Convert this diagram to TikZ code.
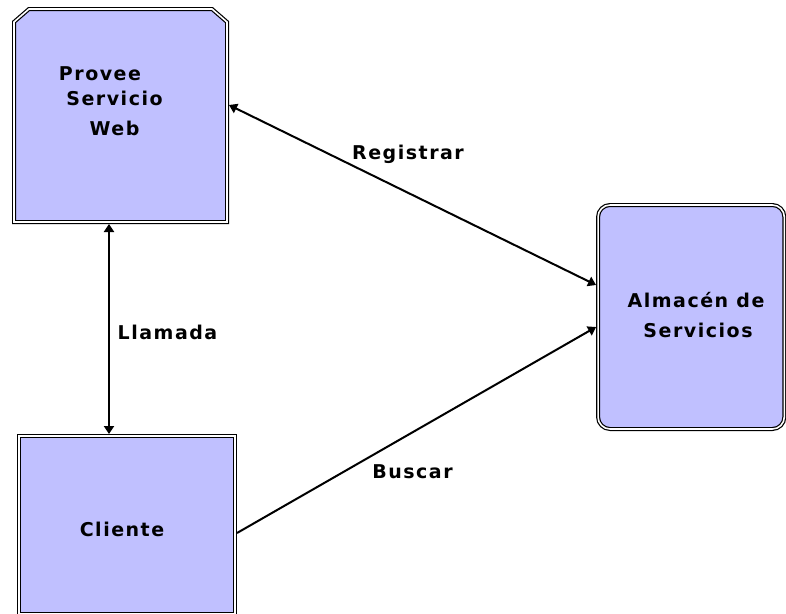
\documentclass[tikz,border=0pt]{standalone}
\usepackage{fontspec}
\newfontfamily\diagfont{DejaVu Sans}[LetterSpace=8]
\usetikzlibrary{arrows.meta}
\definecolor{boxfill}{RGB}{192,192,255}
\tikzset{
  boxline/.style={draw=black, line width=1.2pt, double=white, double distance=1.6pt,
    fill=boxfill},
  boxarea/.style={rectangle, inner sep=0pt, outer sep=2pt},
  lbl/.style={font=\diagfont\bfseries\fontsize{19}{22}\selectfont, inner sep=0pt, anchor=base},
  link/.style={line width=2pt, >={Triangle[length=8pt,width=10pt]}},
}
\begin{document}
\begin{tikzpicture}[x=1pt,y=-1pt]
\useasboundingbox (0,0) rectangle (786,613);

% boxes (outer sep puts the anchors on the outer black line)
\node[boxarea, minimum width=213pt, minimum height=213pt] (provee) at (120.5,115.5) {};
\draw[boxline] ([shift={(2pt,2pt)}]provee.south west)
  -- ([shift={(2pt,-15pt)}]provee.north west)
  -- ([shift={(17pt,-2pt)}]provee.north west)
  -- ([shift={(-17pt,-2pt)}]provee.north east)
  -- ([shift={(-2pt,-15pt)}]provee.north east)
  -- ([shift={(-2pt,2pt)}]provee.south east) -- cycle;
\node[boxarea, boxline, minimum width=216pt, minimum height=178pt] (cliente) at (127,525) {};
\node[boxarea, boxline, rounded corners=12pt, minimum width=186.3pt, minimum height=224pt]
      (almacen) at (691.2,317) {};

% box texts
\node[lbl] (t1) at (100,80) {Provee};
\node[lbl] (t2) at (114.5,105) {Servicio};
\node[lbl] (t3) at (114.5,135) {Web};
\node[lbl] (t4) at (122,536) {Cliente};
\node[lbl] (t5) at (696,307) {Almacén de};
\node[lbl] (t6) at (698,337) {Servicios};

% connectors
\draw[link, <->] (provee.south -| 109,0) -- (cliente.north -| 109,0);
\draw[link, <->] (provee.east |- 0,105) -- (almacen.west |- 0,285);
\draw[link, ->] (cliente.east |- 0,533) -- (almacen.west |- 0,327);

% connector labels
\node[lbl] (l1) at (167.5,339) {Llamada};
\node[lbl] (l2) at (408,159) {Registrar};
\node[lbl] (l3) at (412.5,478) {Buscar};
\end{tikzpicture}
\end{document}
